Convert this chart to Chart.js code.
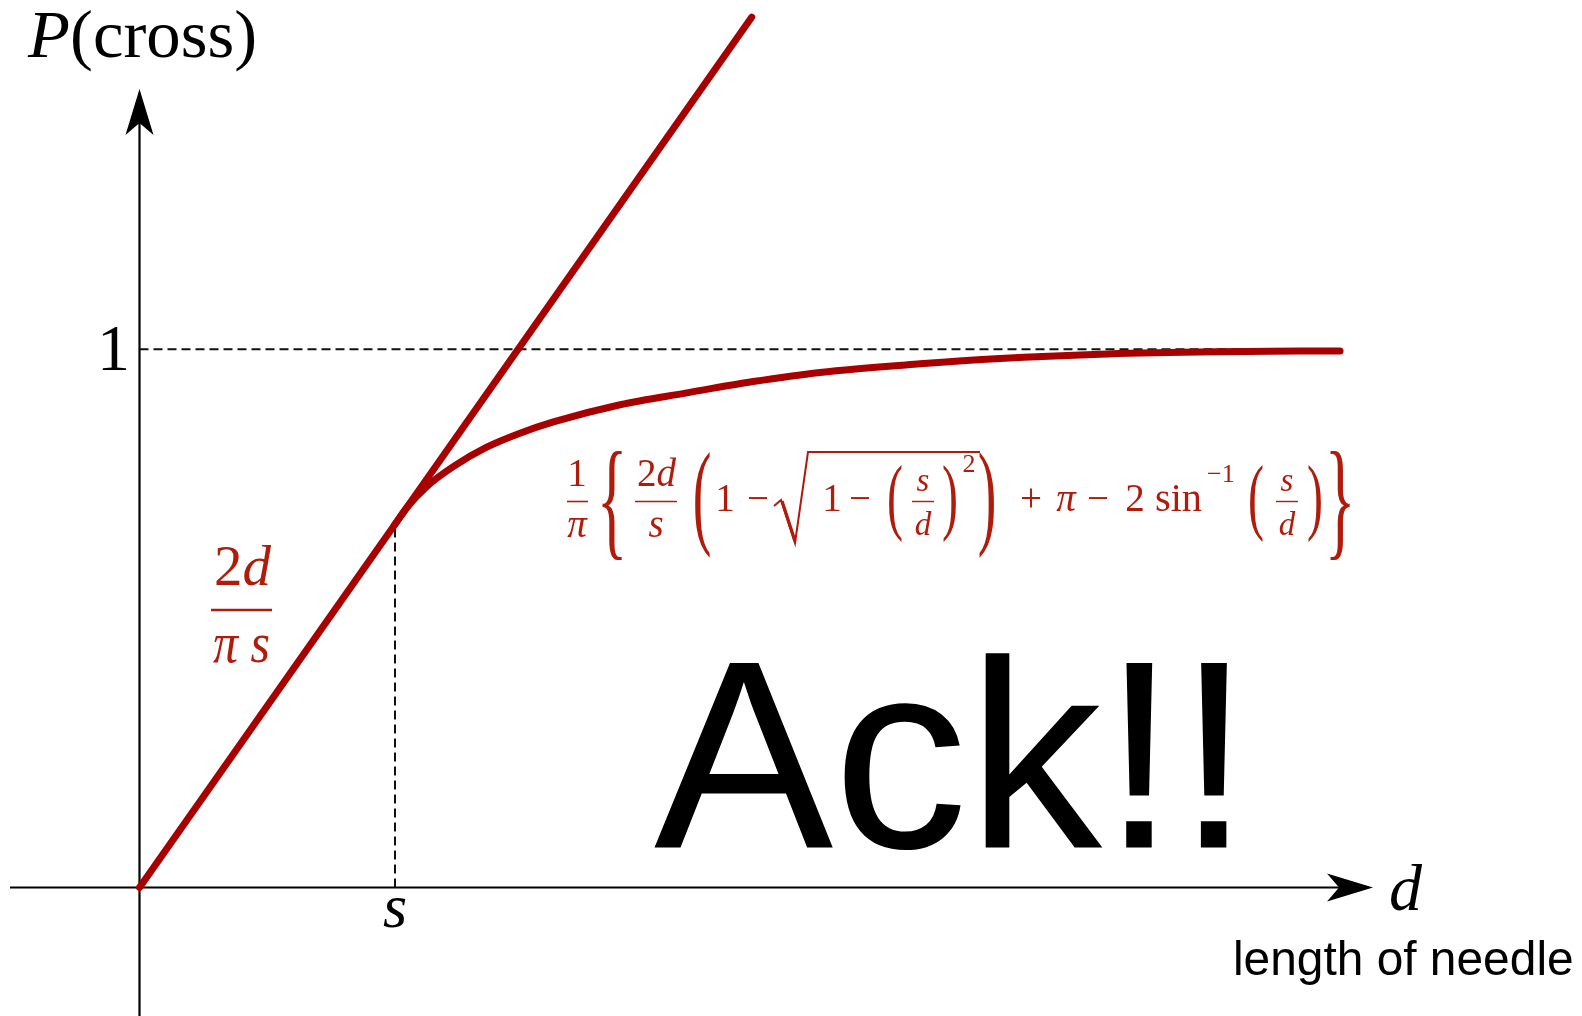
<!DOCTYPE html>
<html>
<head>
<meta charset="utf-8">
<title>P(cross)</title>
<script src="https://cdn.jsdelivr.net/npm/chart.js@4.4.1/dist/chart.umd.min.js"></script>
<style>
  html, body { margin: 0; padding: 0; background: #fff; overflow: hidden; }
  #wrap { position: relative; width: 1582px; height: 1016px; }
</style>
</head>
<body>
<div id="wrap"><canvas id="chart"></canvas></div>
<script>
// needle length d (in units of the line spacing s) against crossing probability
const lineD = [0, 2.396];
const lineP = [0, 1.617];

const curveD = [1.0, 1.05, 1.124, 1.228, 1.359, 1.489, 1.62, 1.881, 2.142, 2.402, 2.663, 3.055, 3.368, 3.759, 4.151, 4.542, 4.699];
const curveP = [0.675, 0.708, 0.745, 0.782, 0.818, 0.844, 0.865, 0.897, 0.919, 0.940, 0.957, 0.973, 0.983, 0.991, 0.995, 0.997, 0.997];

const yTickValues = [1];
const yTickLabels = ["1"];
const xTickValues = [1];
const xTickLabels = ["s"];

const RED = "#a80000";
const TEXT_RED = "#b01c0c";
const SERIF = "'Liberation Serif', 'Times New Roman', serif";
const SANS = "'Liberation Sans', Arial, sans-serif";

const pts = (xs, ys) => xs.map((x, i) => ({ x, y: ys[i] }));

// ── Helpers ──────────────────────────────────────────────────────────────────
function txt(ctx, s, x, y, font, align) {
  ctx.font = font;
  ctx.textAlign = align || "left";
  ctx.textBaseline = "alphabetic";
  ctx.fillText(s, x, y);
}

// draw a run of differently styled pieces squeezed/stretched to a given width
function fitted(ctx, parts, x, y, width) {
  let total = 0;
  parts.forEach(p => { ctx.font = p.f; total += ctx.measureText(p.t).width; });
  ctx.save();
  ctx.translate(x, y);
  ctx.scale(width / total, 1);
  let cx = 0;
  ctx.textAlign = "left"; ctx.textBaseline = "alphabetic";
  parts.forEach(p => { ctx.font = p.f; ctx.fillText(p.t, cx, 0); cx += ctx.measureText(p.t).width; });
  ctx.restore();
}

// same, but the inked box is mapped onto [left,right] x [top,baseline];
// capRef picks which glyphs set the top, top === null keeps the aspect
function fitInk(ctx, parts, left, right, top, baseline, capRef) {
  let adv = 0, inkL = 0, inkR = 0, asc = 0;
  parts.forEach((p, i) => {
    ctx.font = p.f;
    const m = ctx.measureText(p.t);
    if (i === 0) inkL = -m.actualBoundingBoxLeft;
    inkR = adv + m.actualBoundingBoxRight;
    asc = Math.max(asc, m.actualBoundingBoxAscent);
    adv += m.width;
  });
  if (capRef) { ctx.font = parts[0].f; asc = ctx.measureText(capRef).actualBoundingBoxAscent; }
  const sx = (right - left) / (inkR - inkL);
  const sy = top === null ? sx : (baseline - top) / asc;
  ctx.save();
  ctx.translate(left - inkL * sx, baseline);
  ctx.scale(sx, sy);
  ctx.textAlign = "left"; ctx.textBaseline = "alphabetic";
  let cx = 0;
  parts.forEach(p => { ctx.font = p.f; ctx.fillText(p.t, cx, 0); cx += ctx.measureText(p.t).width; });
  ctx.restore();
}

// tall bracket: glyph stretched vertically between top and bottom
function delim(ctx, ch, cx, top, bottom, size) {
  ctx.font = size + "px " + SERIF;
  const m = ctx.measureText(ch);
  const h = m.actualBoundingBoxAscent + m.actualBoundingBoxDescent;
  ctx.save();
  ctx.translate(cx, top);
  ctx.scale(1, (bottom - top) / h);
  ctx.textAlign = "center"; ctx.textBaseline = "alphabetic";
  ctx.fillText(ch, 0, m.actualBoundingBoxAscent);
  ctx.restore();
}

function hbar(ctx, x1, x2, y, w) {
  ctx.beginPath();
  ctx.lineWidth = w;
  ctx.moveTo(x1, y); ctx.lineTo(x2, y);
  ctx.stroke();
}

function arrowHead(ctx, x, y, angle) {
  ctx.save();
  ctx.translate(x, y);
  ctx.rotate(angle);
  ctx.beginPath();
  ctx.moveTo(0, 0);
  ctx.lineTo(-46, -14);
  ctx.lineTo(-34, 0);
  ctx.lineTo(-46, 14);
  ctx.closePath();
  ctx.fill();
  ctx.restore();
}

// ── Axes with arrows, drawn under the curves ─────────────────────────────────
const axesPlugin = {
  id: "arrowAxes",
  beforeDatasetsDraw(chart) {
    const { ctx, scales: { x, y } } = chart;
    const x0 = x.getPixelForValue(0), y0 = y.getPixelForValue(0);
    const xEnd = x.getPixelForValue(4.828), yEnd = y.getPixelForValue(1.4837);
    ctx.save();
    ctx.strokeStyle = "#000"; ctx.fillStyle = "#000";
    ctx.lineWidth = 2.2;
    ctx.beginPath();
    ctx.moveTo(x.getPixelForValue(-0.507), y0); ctx.lineTo(xEnd - 30, y0);
    ctx.moveTo(x0, y.bottom); ctx.lineTo(x0, yEnd + 30);
    ctx.stroke();
    arrowHead(ctx, xEnd, y0, 0);
    arrowHead(ctx, x0, yEnd, -Math.PI / 2);
    ctx.restore();
  }
};

// ── Labels, tick text and the formulas ───────────────────────────────────────
const labelPlugin = {
  id: "labels",
  afterDraw(chart) {
    const { ctx, scales: { x, y } } = chart;
    ctx.save();
    ctx.fillStyle = "#000";

    fitInk(ctx, [
      { t: "P", f: "italic 66px " + SERIF },
      { t: "(cross)", f: "66px " + SERIF }
    ], 27, 255, 10, 57);

    yTickValues.forEach((v, i) => txt(ctx, yTickLabels[i], 113.5, y.getPixelForValue(v) + 21, "66px " + SERIF, "center"));
    xTickValues.forEach((v, i) => txt(ctx, xTickLabels[i], x.getPixelForValue(v), 927, "italic 62px " + SERIF, "center"));

    txt(ctx, "d", 1389, 910, "italic 66px " + SERIF, "left");
    fitInk(ctx, [{ t: "length of needle", f: "46px " + SANS }], 1236, 1572, null, 974.5);
    fitInk(ctx, [{ t: "Ack!!", f: "263px " + SANS }], 654, 1227, 659, 847.5, "A");

    // slope label 2d / (pi s)
    ctx.fillStyle = TEXT_RED; ctx.strokeStyle = TEXT_RED;
    fitted(ctx, [{ t: "2", f: "57px " + SERIF }, { t: "d", f: "italic 57px " + SERIF }], 214, 585, 57);
    hbar(ctx, 211, 272, 610, 2.7);
    fitted(ctx, [{ t: "\u03C0", f: "italic 57px " + SERIF }, { t: " s", f: "italic 57px " + SERIF }], 213, 662, 57);

    // 1/pi { 2d/s (1 - sqrt(1 - (s/d)^2)) + pi - 2 sin^-1 (s/d) }
    const F = 39, B = 511, A = 501.5;
    const up = F + "px " + SERIF, it = "italic " + F + "px " + SERIF;
    const sm = "italic 33px " + SERIF, sup = "26px " + SERIF;

    txt(ctx, "1", 577, 486, up, "center");
    hbar(ctx, 567, 588, A, 1.6);
    txt(ctx, "\u03C0", 577, 537, it, "center");

    delim(ctx, "{", 612, 449, 560, 64);

    fitted(ctx, [{ t: "2", f: up }, { t: "d", f: it }], 637, 486, 39);
    hbar(ctx, 635, 677, A, 1.6);
    txt(ctx, "s", 656, 537, it, "center");

    delim(ctx, "(", 702, 449, 560, 56);
    txt(ctx, "1", 725, B, up, "center");
    txt(ctx, "\u2212", 758, B, up, "center");

    ctx.lineJoin = "miter";
    ctx.beginPath();
    ctx.lineWidth = 2;
    ctx.moveTo(774, 506); ctx.lineTo(781, 500);
    ctx.lineTo(795, 543); ctx.lineTo(808, 452); ctx.lineTo(980, 452);
    ctx.stroke();
    ctx.beginPath();
    ctx.lineWidth = 3.2;
    ctx.moveTo(782, 501); ctx.lineTo(795, 541);
    ctx.stroke();

    txt(ctx, "1", 832, B, up, "center");
    txt(ctx, "\u2212", 860, B, up, "center");
    delim(ctx, "(", 895, 464, 543, 48);
    txt(ctx, "s", 923, 491, sm, "center");
    hbar(ctx, 912, 934, A, 1.4);
    txt(ctx, "d", 923, 535, sm, "center");
    delim(ctx, ")", 950, 464, 543, 48);
    txt(ctx, "2", 969, 472, sup, "center");
    delim(ctx, ")", 987, 449, 560, 56);

    txt(ctx, "+", 1031, B, up, "center");
    txt(ctx, "\u03C0", 1066, B, it, "center");
    txt(ctx, "\u2212", 1098, B, up, "center");
    txt(ctx, "2", 1135, B, up, "center");
    fitted(ctx, [{ t: "sin", f: up }], 1155, B, 47);
    txt(ctx, "\u22121", 1207, 482, sup, "left");
    delim(ctx, "(", 1256, 464, 543, 48);
    txt(ctx, "s", 1287, 491, sm, "center");
    hbar(ctx, 1276, 1298, A, 1.4);
    txt(ctx, "d", 1287, 535, sm, "center");
    delim(ctx, ")", 1315, 464, 543, 48);
    delim(ctx, "}", 1340, 449, 560, 64);

    ctx.restore();
  }
};

new Chart(document.getElementById("chart"), {
  type: "line",
  data: {
    datasets: [
      {
        data: pts(curveD, curveP),
        borderColor: RED, borderWidth: 7,
        borderCapStyle: "round", borderJoinStyle: "round",
        cubicInterpolationMode: "monotone",
        pointRadius: 0, fill: false
      },
      {
        data: pts(lineD, lineP),
        borderColor: RED, borderWidth: 7,
        borderCapStyle: "round",
        pointRadius: 0, fill: false
      },
      {
        // P = 1 level
        data: [{ x: 0, y: yTickValues[0] }, { x: curveD[curveD.length - 1], y: yTickValues[0] }],
        borderColor: "#111", borderWidth: 2, borderDash: [9, 5],
        pointRadius: 0, fill: false
      },
      {
        // d = s drop line
        data: [{ x: xTickValues[0], y: 0 }, { x: xTickValues[0], y: curveP[0] }],
        borderColor: "#111", borderWidth: 2, borderDash: [9, 5],
        pointRadius: 0, fill: false
      }
    ]
  },
  options: {
    responsive: true,
    maintainAspectRatio: false,
    animation: false,
    layout: { padding: 0 },
    plugins: { legend: { display: false }, tooltip: { enabled: false } },
    scales: {
      x: { type: "linear", display: false, min: -0.546, max: 5.646 },
      y: { type: "linear", display: false, min: -0.2388, max: 1.649 }
    }
  },
  plugins: [axesPlugin, labelPlugin]
});
</script>
</body>
</html>
